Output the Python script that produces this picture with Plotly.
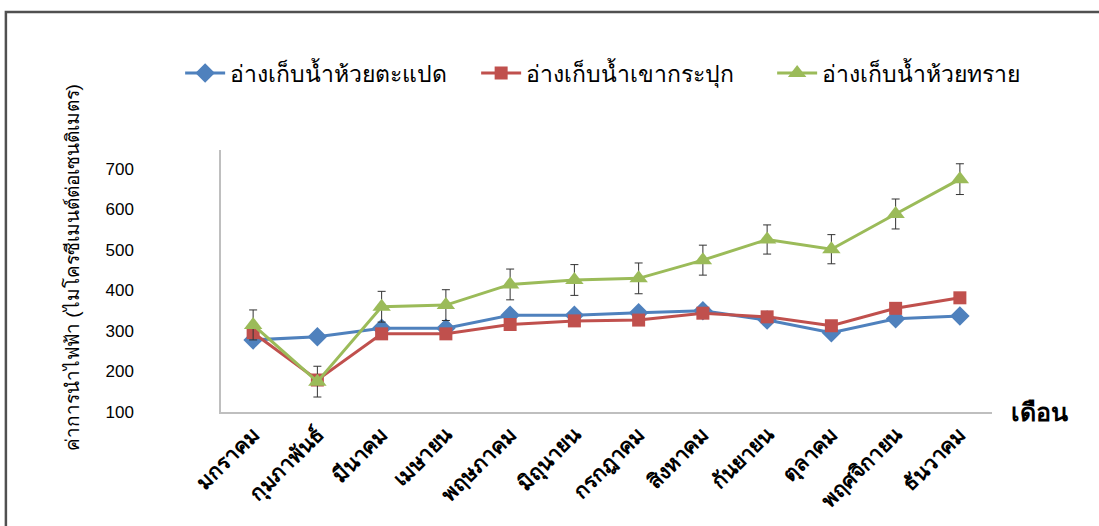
import plotly.graph_objects as go

months = ["มกราคม", "กุมภาพันธ์", "มีนาคม", "เมษายน", "พฤษภาคม", "มิถุนายน",
          "กรกฎาคม", "สิงหาคม", "กันยายน", "ตุลาคม", "พฤศจิกายน", "ธันวาคม"]
names = ["อ่างเก็บน้ำห้วยตะแปด", "อ่างเก็บน้ำเขากระปุก", "อ่างเก็บน้ำห้วยทราย"]
huai_tapaed = [278, 286, 307, 307, 339, 339, 345, 350, 327, 296, 330, 337]
khao_krapuk = [296, 179, 293, 293, 316, 325, 327, 344, 335, 313, 356, 382]
huai_sai = [315, 175, 360, 364, 415, 426, 430, 475, 526, 502, 589, 675]
huai_sai_err = [37, 38, 38, 38, 38, 38, 38, 37, 36, 36, 37, 38]
yticks = [100, 200, 300, 400, 500, 600, 700]
y_title = "ค่าการนำไฟฟ้า (ไมโครซีเมนต์ต่อเซนติเมตร)"
x_title = "เดือน"

fig = go.Figure()
fig.add_trace(go.Scatter(x=months, y=huai_tapaed, name=names[0], mode="lines+markers",
                         line=dict(color="#4F81BD", width=3),
                         marker=dict(symbol="diamond", size=15, color="#4F81BD")))
fig.add_trace(go.Scatter(x=months, y=khao_krapuk, name=names[1], mode="lines+markers",
                         line=dict(color="#C0504D", width=3),
                         marker=dict(symbol="square", size=13, color="#C0504D")))
fig.add_trace(go.Scatter(x=months, y=huai_sai, name=names[2], mode="lines+markers",
                         line=dict(color="#9BBB59", width=3),
                         marker=dict(symbol="triangle-up", size=16, color="#9BBB59"),
                         error_y=dict(type="data", array=huai_sai_err, visible=True,
                                      color="#333333", thickness=1, width=4)))

fig.update_layout(
    width=1099, height=526,
    margin=dict(l=221, r=107, t=150, b=114),
    paper_bgcolor="white", plot_bgcolor="white",
    font=dict(family="Liberation Sans, Arial, sans-serif", color="black"),
    showlegend=True,
    legend=dict(orientation="h", x=-0.053, xanchor="left", y=1.294, yanchor="middle",
                font=dict(size=23), itemwidth=40, entrywidth=241, entrywidthmode="pixels",
                bgcolor="rgba(0,0,0,0)"),
    xaxis=dict(type="category", range=[-0.5, 11.5], showgrid=False, showline=True,
               linecolor="#BFBFBF", linewidth=1.5, ticks="", tickangle=-45,
               tickfont=dict(size=21, color="black", weight="bold"), zeroline=False),
    yaxis=dict(range=[100, 747], tickvals=yticks, showgrid=False, showline=True,
               linecolor="#BFBFBF", linewidth=1.5, ticks="", zeroline=False,
               tickfont=dict(size=17, color="black"), ticklabelstandoff=82),
    annotations=[
        dict(text="<b>" + x_title + "</b>", xref="paper", yref="paper", x=1.062, y=0,
             xanchor="center", yanchor="middle", showarrow=False,
             font=dict(size=25, color="black")),
        dict(text=y_title, xref="paper", yref="paper", x=-0.193, y=0.55,
             xanchor="center", yanchor="middle", showarrow=False, textangle=-90,
             font=dict(size=19, color="black")),
    ],
    shapes=[dict(type="rect", xref="paper", yref="paper", x0=-0.279, x1=1.3,
                 y0=-0.7, y1=1.527, line=dict(color="#505050", width=2.5),
                 fillcolor="rgba(0,0,0,0)", layer="below")],
)

fig.write_html("out.html")
